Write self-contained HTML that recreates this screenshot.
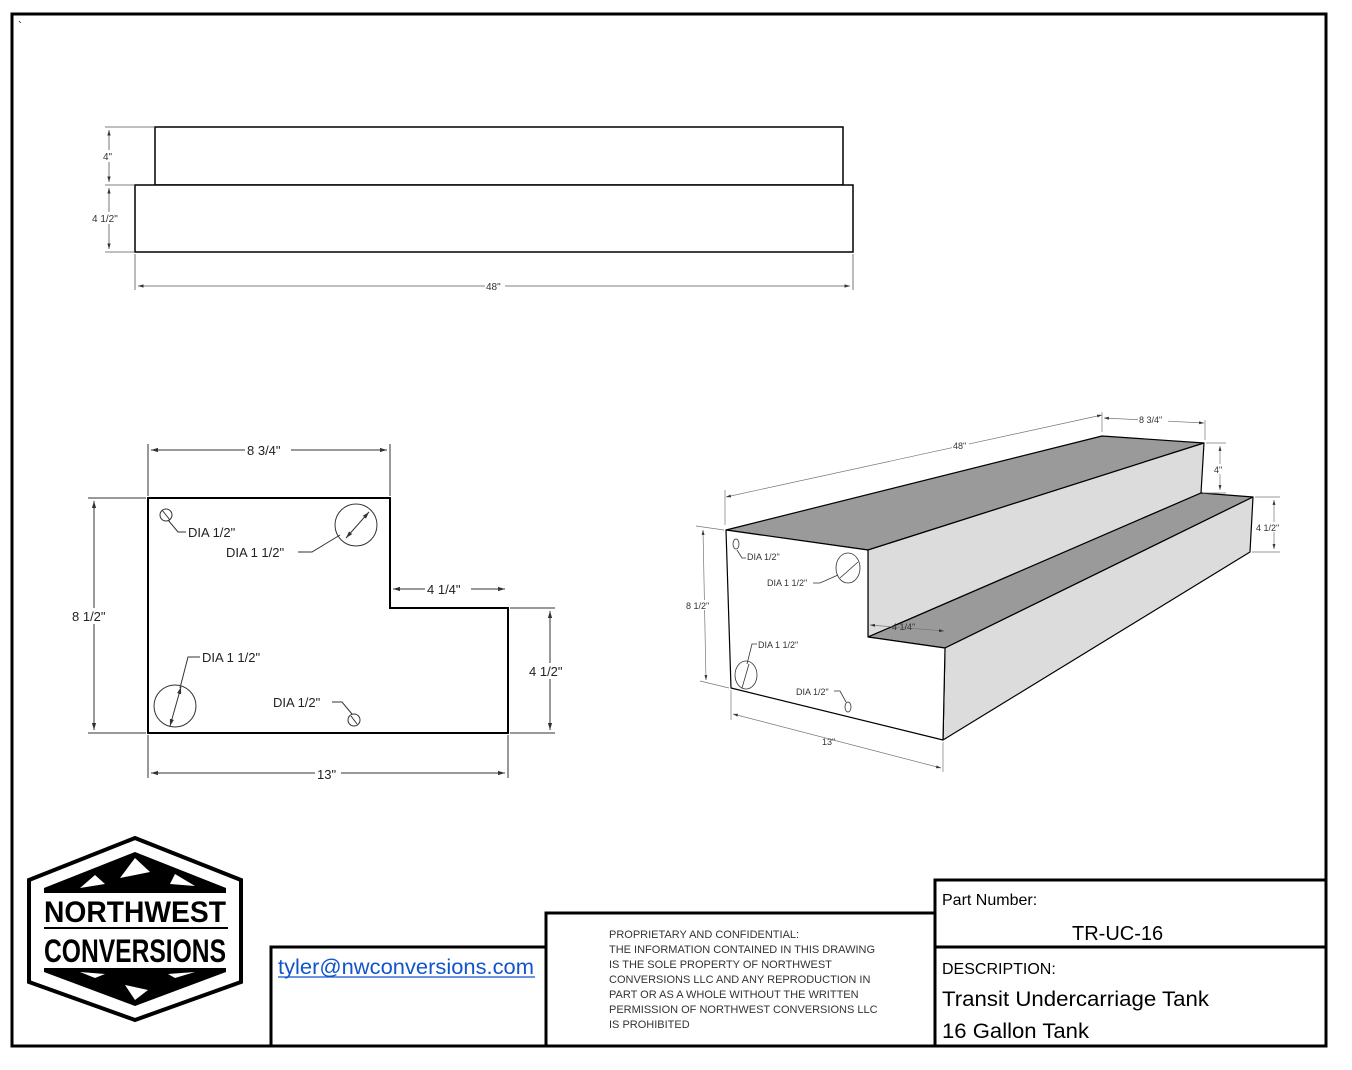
<!DOCTYPE html><html><head><meta charset="utf-8"><style>
body{margin:0;background:#fff;width:1352px;height:1070px;overflow:hidden;font-family:"Liberation Sans",sans-serif}
svg{position:absolute;left:0;top:0}
</style></head><body>
<svg width="1352" height="1070" viewBox="0 0 1352 1070" font-family="Liberation Sans, sans-serif">
<defs><marker id="a" viewBox="0 0 10 10" refX="10" refY="5" markerWidth="7" markerHeight="7" orient="auto-start-reverse"><path d="M0,2L10,5L0,8z" fill="#333"/></marker></defs>
<rect x="12" y="14" width="1314" height="1032" fill="none" stroke="#000" stroke-width="3"/>
<text x="18" y="30" font-size="12">`</text>
<g stroke="#000" stroke-width="1.5" fill="#fff">
<rect x="155" y="127" width="688" height="58"/><rect x="135" y="185" width="718" height="67"/></g>
<g stroke="#555" stroke-width="0.8" fill="none">
<line x1="105" y1="127" x2="155" y2="127"/><line x1="105" y1="185" x2="135" y2="185"/><line x1="105" y1="252" x2="135" y2="252"/>
<line x1="109" y1="130" x2="109" y2="182" marker-start="url(#a)" marker-end="url(#a)"/>
<line x1="109" y1="188" x2="109" y2="249" marker-start="url(#a)" marker-end="url(#a)"/>
<line x1="135" y1="254" x2="135" y2="290"/><line x1="853" y1="254" x2="853" y2="290"/>
<line x1="138" y1="286" x2="850" y2="286" marker-start="url(#a)" marker-end="url(#a)"/></g>
<g font-size="10" fill="#333"><rect x="100" y="150" width="18" height="12" fill="#fff"/><text x="103" y="160">4"</text>
<rect x="90" y="212" width="36" height="12" fill="#fff"/><text x="92" y="222">4 1/2"</text>
<rect x="485" y="280" width="20" height="12" fill="#fff"/><text x="486" y="290">48"</text></g>
<path d="M148,498H390V608H508V733H148Z" fill="#fff" stroke="#000" stroke-width="2"/>
<g stroke="#333" stroke-width="1" fill="none">
<line x1="148" y1="444" x2="148" y2="496"/><line x1="390" y1="444" x2="390" y2="496"/>
<line x1="151" y1="450" x2="387" y2="450" marker-start="url(#a)" marker-end="url(#a)"/>
<line x1="88" y1="498" x2="146" y2="498"/><line x1="88" y1="733" x2="146" y2="733"/>
<line x1="94" y1="501" x2="94" y2="730" marker-start="url(#a)" marker-end="url(#a)"/>
<line x1="393" y1="589" x2="505" y2="589" marker-start="url(#a)" marker-end="url(#a)"/>
<line x1="510" y1="608" x2="555" y2="608"/><line x1="510" y1="733" x2="555" y2="733"/>
<line x1="550" y1="611" x2="550" y2="730" marker-start="url(#a)" marker-end="url(#a)"/>
<line x1="148" y1="735" x2="148" y2="778"/><line x1="508" y1="735" x2="508" y2="778"/>
<line x1="151" y1="773" x2="505" y2="773" marker-start="url(#a)" marker-end="url(#a)"/>
<circle cx="166" cy="515" r="6"/><circle cx="356" cy="525" r="21"/><circle cx="175" cy="706" r="21"/><circle cx="354" cy="720" r="6"/>
<line x1="346" y1="538" x2="369" y2="512" marker-start="url(#a)" marker-end="url(#a)"/>
<line x1="170" y1="726" x2="181" y2="687" marker-start="url(#a)" marker-end="url(#a)"/>
<line x1="162" y1="510" x2="170" y2="520"/><line x1="351" y1="716" x2="357" y2="724"/>
<path d="M168,520 L178,532 H186"/><path d="M298,552 H312 L340,535"/><path d="M200,657 H188 L180,688"/><path d="M332,702 H342 L352,714"/>
</g>
<g font-size="13" fill="#222">
<rect x="245" y="442" width="46" height="15" fill="#fff"/><text x="247" y="455">8 3/4"</text>
<rect x="70" y="608" width="48" height="16" fill="#fff"/><text x="72" y="621">8 1/2"</text>
<rect x="425" y="581" width="46" height="15" fill="#fff"/><text x="427" y="594">4 1/4"</text>
<rect x="527" y="663" width="46" height="16" fill="#fff"/><text x="529" y="676">4 1/2"</text>
<rect x="315" y="766" width="26" height="15" fill="#fff"/><text x="317" y="779">13"</text>
<text x="188" y="537">DIA 1/2"</text><text x="226" y="557">DIA 1 1/2"</text><text x="202" y="662">DIA 1 1/2"</text><text x="273" y="707">DIA 1/2"</text>
</g>
<g stroke="#000" stroke-width="1.2" stroke-linejoin="round">
<path d="M726,530L1102,436L1204,443L868,550Z" fill="#9a9a9a"/>
<path d="M868,550L1204,443L1201,493L868,637Z" fill="#dcdcdc"/>
<path d="M868,637L1201,493L1253,497L945,648Z" fill="#9a9a9a"/>
<path d="M945,648L1253,497L1250,552L943,740Z" fill="#dcdcdc"/>
<path d="M726,530L868,550L868,637L945,648L943,740L731,688Z" fill="#fff"/>
</g>
<g stroke="#777" stroke-width="0.7" fill="none">
<line x1="725" y1="525" x2="725" y2="490"/><line x1="1102" y1="432" x2="1102" y2="412"/><line x1="1205" y1="440" x2="1205" y2="420"/>
<line x1="726" y1="497" x2="1102" y2="415" marker-start="url(#a)" marker-end="url(#a)"/>
<line x1="1104" y1="418" x2="1204" y2="423" marker-start="url(#a)" marker-end="url(#a)"/>
<line x1="1206" y1="443" x2="1226" y2="443"/><line x1="1203" y1="493" x2="1226" y2="493"/>
<line x1="1220" y1="446" x2="1220" y2="490" marker-start="url(#a)" marker-end="url(#a)"/>
<line x1="1255" y1="497" x2="1280" y2="497"/><line x1="1252" y1="552" x2="1280" y2="552"/>
<line x1="1274" y1="500" x2="1274" y2="549" marker-start="url(#a)" marker-end="url(#a)"/>
<line x1="696" y1="526" x2="724" y2="530"/><line x1="700" y1="681" x2="729" y2="688"/>
<line x1="703" y1="530" x2="706" y2="680" marker-start="url(#a)" marker-end="url(#a)"/>
<line x1="731" y1="690" x2="731" y2="720"/><line x1="943" y1="742" x2="943" y2="772"/>
<line x1="733" y1="714" x2="941" y2="768" marker-start="url(#a)" marker-end="url(#a)"/>
<line x1="870" y1="625" x2="944" y2="631" marker-start="url(#a)" marker-end="url(#a)"/>
</g>
<g stroke="#333" stroke-width="0.8" fill="none">
<ellipse cx="736" cy="544" rx="3" ry="5"/><ellipse cx="848" cy="568" rx="12" ry="15"/><ellipse cx="746" cy="675" rx="11" ry="14"/><ellipse cx="848" cy="707" rx="3" ry="5"/>
<line x1="840" y1="578" x2="858" y2="562"/><line x1="742" y1="688" x2="749" y2="664"/>
<path d="M737,550 L742,558 H746"/><path d="M813,583 H820 L838,575"/><path d="M757,644 H752 L747,664"/><path d="M834,691 H840 L846,702"/>
</g>
<g font-size="9" fill="#333">
<rect x="952" y="440" width="17" height="10" fill="#fff"/><text x="953" y="449">48"</text>
<rect x="1138" y="414" width="30" height="10" fill="#fff"/><text x="1139" y="423">8 3/4"</text>
<rect x="1212" y="464" width="14" height="10" fill="#fff"/><text x="1214" y="473">4"</text>
<rect x="1255" y="522" width="30" height="10" fill="#fff"/><text x="1256" y="531">4 1/2"</text>
<rect x="685" y="600" width="32" height="10" fill="#fff"/><text x="686" y="609">8 1/2"</text>
<text x="822" y="745">13"</text><text x="892" y="630">4 1/4"</text>
<text x="747" y="560">DIA 1/2"</text><text x="767" y="586">DIA 1 1/2"</text><text x="758" y="648">DIA 1 1/2"</text><text x="796" y="695">DIA 1/2"</text>
</g>
<path d="M135,838 L241,880 L241,982 L135,1020 L29,982 L29,880 Z" fill="#fff" stroke="#000" stroke-width="4"/>
<path d="M135,852 L226,888 L226,895 L44,895 L44,888 Z" fill="#000"/>
<path d="M135,1006 L226,972 L226,966 L44,966 L44,972 Z" fill="#000"/>
<path d="M135,858 L120,878 L150,872 Z M95,875 L80,888 L105,884 Z M175,874 L195,886 L170,884Z" fill="#fff"/>
<path d="M135,1000 L125,985 L148,990 Z M95,978 L80,972 L105,974Z M175,978 L195,972 L168,974Z" fill="#fff"/>
<rect x="41" y="893" width="190" height="75" fill="#fff"/>
<line x1="44" y1="928" x2="228" y2="928" stroke="#000" stroke-width="2"/>
<text x="135" y="922" font-size="30" font-weight="bold" text-anchor="middle" textLength="182" lengthAdjust="spacingAndGlyphs">NORTHWEST</text>
<text x="135" y="962" font-size="32" font-weight="bold" text-anchor="middle" textLength="182" lengthAdjust="spacingAndGlyphs">CONVERSIONS</text>
<g stroke="#000" stroke-width="3" fill="none">
<path d="M271,1045V947H546"/><path d="M546,1045V913H935"/><path d="M935,1045V880H1326"/><line x1="935" y1="947" x2="1326" y2="947"/>
</g>
<text x="278" y="974" font-size="21" fill="#1155cc" textLength="256" lengthAdjust="spacingAndGlyphs">tyler@nwconversions.com</text>
<line x1="278" y1="977" x2="535" y2="977" stroke="#1155cc" stroke-width="1.3"/>
<g font-size="11" fill="#333">
<text x="609" y="938">PROPRIETARY AND CONFIDENTIAL:</text>
<text x="609" y="953">THE INFORMATION CONTAINED IN THIS DRAWING</text>
<text x="609" y="968">IS THE SOLE PROPERTY OF NORTHWEST</text>
<text x="609" y="983">CONVERSIONS LLC AND ANY REPRODUCTION IN</text>
<text x="609" y="998">PART OR AS A WHOLE WITHOUT THE WRITTEN</text>
<text x="609" y="1013">PERMISSION OF NORTHWEST CONVERSIONS LLC</text>
<text x="609" y="1028">IS PROHIBITED</text></g>
<text x="942" y="905" font-size="16">Part Number:</text>
<text x="1072" y="940" font-size="20">TR-UC-16</text>
<text x="942" y="974" font-size="16">DESCRIPTION:</text>
<text x="942" y="1006" font-size="21" textLength="267" lengthAdjust="spacingAndGlyphs">Transit Undercarriage Tank</text>
<text x="942" y="1038" font-size="21" textLength="147" lengthAdjust="spacingAndGlyphs">16 Gallon Tank</text>
</svg></body></html>
